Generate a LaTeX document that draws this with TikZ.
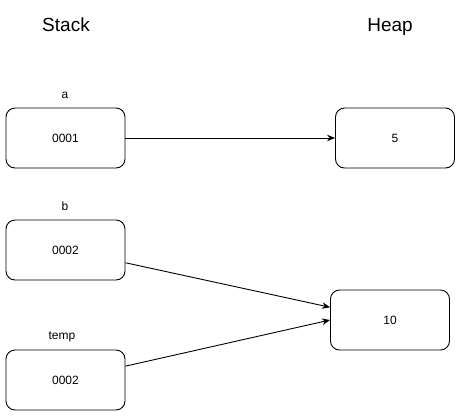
\documentclass[tikz,border=0pt]{standalone}
\usepackage{fontspec}
\setmainfont{Liberation Sans}
\usetikzlibrary{arrows.meta, positioning}

\tikzset{
  cell/.style={draw, rounded corners=9pt, line width=0.9pt, minimum width=119pt, minimum height=60pt, inner sep=0pt, font=\fontsize{12}{14}\selectfont},
  varname/.style={font=\fontsize{12}{14}\selectfont},
  title/.style={font=\fontsize{19}{22}\selectfont},
  pointer/.style={->, line width=0.9pt}
}

\begin{document}
\begin{tikzpicture}[x=1pt, y=-1pt, >={Stealth[length=8pt, width=6.5pt]}]
  \useasboundingbox (0,0) rectangle (461,416);

  % Nadpisy
  \node[title] (stacktitle) at (66,25) {Stack};
  \node[title] (heaptitle) at (390,27) {Heap};

  % Zasobnik
  \node[cell] (sa) at (65.5,138) {0001};
  \node[cell] (sb) at (65.5,250) {0002};
  \node[cell] (stemp) at (65.5,380) {0002};
  \node[varname] (la) at (65,95) {a};
  \node[varname] (lb) at (65,206) {b};
  \node[varname] (ltemp) at (62,337) {temp};

  % Halda
  \node[cell] (h5) at (395,138) {5};
  \node[cell] (h10) at (390,320) {10};

  % Ukazatele
  \draw[pointer] (sa.east) -- (h5.west);
  \draw[pointer] (sb.-12) -- (h10.168);
  \draw[pointer] (stemp.13) -- (h10.west);
\end{tikzpicture}
\end{document}
